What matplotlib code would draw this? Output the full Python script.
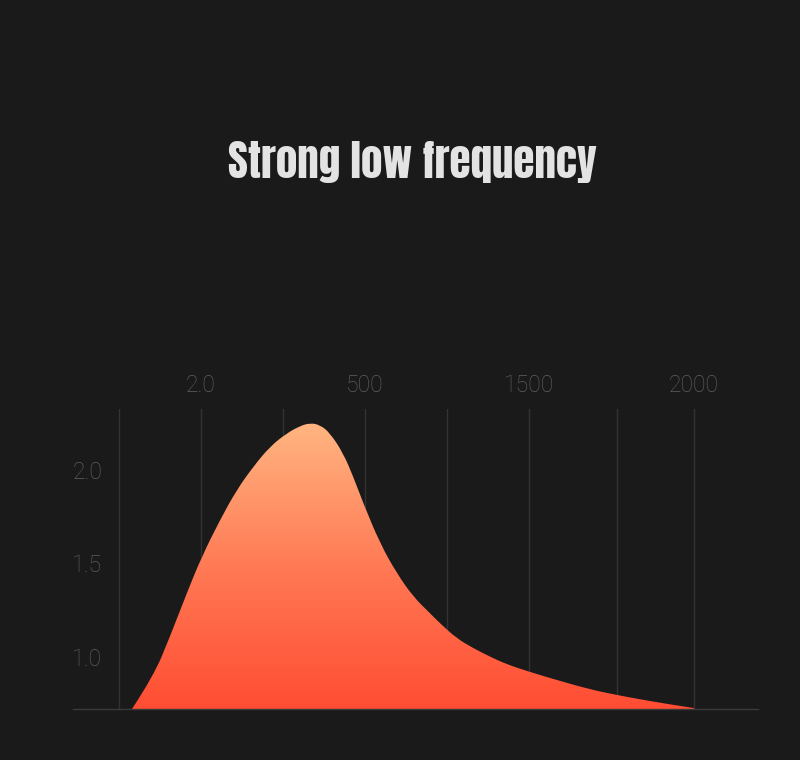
import numpy as np
import matplotlib
matplotlib.use("Agg")
import matplotlib.pyplot as plt
from matplotlib.colors import LinearSegmentedColormap
from matplotlib.patches import PathPatch
from matplotlib.path import Path

# --Data
title = "Strong low frequency"
curve_x = [0.155, 0.418, 0.622, 0.826, 1.009, 1.232, 1.435, 1.638, 1.841, 2.045,
           2.207, 2.329, 2.451, 2.573, 2.735, 2.857, 2.979, 3.183, 3.387, 3.589,
           3.793, 3.915, 4.118, 4.321, 4.524, 4.728, 5.004, 5.338, 5.744, 6.070,
           6.354, 6.659, 7.012]
curve_y = [0.720, 0.895, 1.109, 1.341, 1.536, 1.733, 1.893, 2.018, 2.125, 2.196,
           2.235, 2.251, 2.241, 2.198, 2.089, 1.964, 1.822, 1.608, 1.448, 1.322,
           1.234, 1.180, 1.100, 1.047, 1.002, 0.961, 0.921, 0.877, 0.827, 0.797,
           0.774, 0.751, 0.727]
grid_x = [0, 1, 2, 3, 4, 5, 6.07, 7.01]
xtick_pos = [1, 3, 5, 7.01]
xtick_labels = ["2.0", "500", "1500", "2000"]
ytick_pos = [1.0, 1.5, 2.0]
ytick_labels = ["1.0", "1.5", "2.0"]

bg = "#1a1a1a"
y0 = 0.722
fig = plt.figure(figsize=(8, 7.6), dpi=100, facecolor=bg)
ax = fig.add_axes([73 / 800, 1 - 709 / 760, 685 / 800, 300 / 760])
ax.set_facecolor(bg)
ax.set_xlim(-0.561, 7.793)
ax.set_ylim(y0, 2.326)

for g in grid_x:
    ax.axvline(g, color="#333333", lw=1, zorder=1)

# smooth outline: quadratic curves through midpoints of the read points
pts = np.column_stack([curve_x, curve_y])
verts = [(curve_x[0], y0), tuple(pts[0])]
codes = [Path.MOVETO, Path.LINETO]
for i in range(1, len(pts) - 1):
    mid = (pts[i] + pts[i + 1]) / 2
    verts += [tuple(pts[i]), tuple(mid)]
    codes += [Path.CURVE3, Path.CURVE3]
verts += [tuple(pts[-1]), (curve_x[-1], y0), (curve_x[0], y0)]
codes += [Path.LINETO, Path.LINETO, Path.CLOSEPOLY]
shape = PathPatch(Path(verts, codes), facecolor="none", edgecolor="none")
ax.add_patch(shape)

cmap = LinearSegmentedColormap.from_list("warm", ["#ff4d33", "#ff7a55", "#ffb581"])
grad = np.linspace(0, 1, 256).reshape(-1, 1)
im = ax.imshow(grad, cmap=cmap, aspect="auto", origin="lower",
               extent=[min(curve_x), max(curve_x), y0, max(curve_y)], zorder=2)
im.set_clip_path(shape)

for s in ["top", "left", "right"]:
    ax.spines[s].set_visible(False)
ax.spines["bottom"].set_color("#3a3a3a")
ax.spines["bottom"].set_linewidth(1)
ax.spines["bottom"].set_zorder(3)

ax.xaxis.tick_top()
ax.set_xticks(xtick_pos)
ax.set_xticklabels(xtick_labels)
ax.set_yticks(ytick_pos)
ax.set_yticklabels(ytick_labels)
ax.tick_params(axis="x", length=0, pad=9, labelsize=16.5, labelcolor="#5e5e5e")
ax.tick_params(axis="y", length=0, pad=-21, labelsize=16.5, labelcolor="#5e5e5e")
for lab in ax.get_xticklabels() + ax.get_yticklabels():
    lab.set_family(["Roboto", "DejaVu Sans"])
    lab.set_fontweight("light")

fig.text(412 / 800, 1 - 162 / 760, title, ha="center", va="center",
         fontsize=31, color="#e3e3e3", family=["Anton", "DejaVu Sans"])

fig.savefig("out.png", dpi=100, facecolor=bg)
